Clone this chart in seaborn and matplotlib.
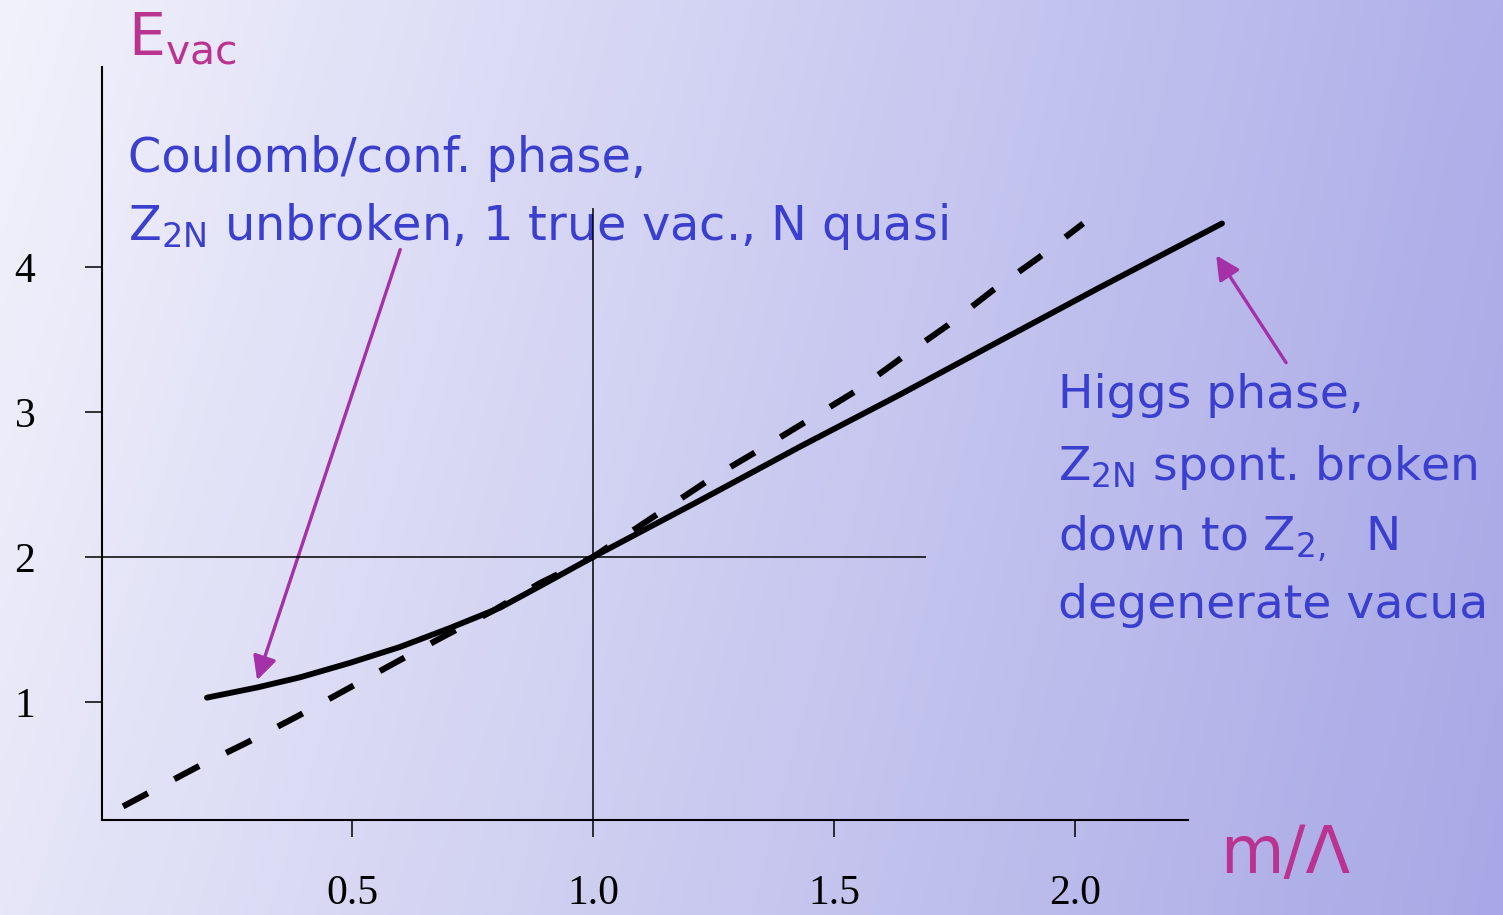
import numpy as np
import pandas as pd
import matplotlib
matplotlib.use("Agg")
import matplotlib.pyplot as plt
import seaborn as sns

# values (x = m/Lambda, y = E_vac)
solid_x = [0.199, 0.303, 0.392, 0.496, 0.600, 0.703, 0.807, 0.896, 1.0,
           1.222, 1.429, 1.637, 1.844, 2.052, 2.305]
solid_y = [1.03, 1.10, 1.17, 1.27, 1.38, 1.51, 1.65, 1.81, 2.0,
           2.39, 2.76, 3.12, 3.49, 3.86, 4.30]

dash_x = [0.025, 0.178, 0.282, 0.386, 0.485, 0.589, 0.689, 0.793, 0.890, 1.0,
          1.154, 1.249, 1.351, 1.450, 1.548, 1.643, 1.737, 1.830, 1.923, 2.017]
dash_y = [0.28, 0.55, 0.72, 0.90, 1.08, 1.27, 1.45, 1.63, 1.82, 2.0,
          2.34, 2.55, 2.75, 2.95, 3.15, 3.38, 3.60, 3.84, 4.06, 4.30]

x_ticks = [0.5, 1.0, 1.5, 2.0]
x_tick_labels = ["0.5", "1.0", "1.5", "2.0"]
y_ticks = [1, 2, 3, 4]
y_tick_labels = ["1", "2", "3", "4"]

# reference cross at the transition point
cross_x, cross_y = 1.0, 2.0
vline_top = 4.41
hline_end = 1.69

W, H = 1503, 915
BLUE = "#3b3fcd"
MAGENTA = "#bb3391"
ARROW = "#a431a8"

sns.set_style("white")
plt.rcParams["font.family"] = ["DejaVu Sans"]
plt.rcParams["mathtext.default"] = "regular"


def fpos(px, py):
    # pixel position in the picture -> figure fraction
    return px / W, 1 - py / H


fig = plt.figure(figsize=(W / 100, H / 100), dpi=100)

# gradient background (light lavender top-left -> periwinkle right)
bg = fig.add_axes([0, 0, 1, 1], zorder=-1)
tl = np.array([242, 242, 252]) / 255
tr = np.array([176, 176, 234]) / 255
bl = np.array([230, 230, 248]) / 255
br = np.array([168, 168, 230]) / 255
u = np.linspace(0, 1, 200)[None, :, None]
v = np.linspace(0, 1, 120)[:, None, None]
grad = (1 - v) * ((1 - u) * tl + u * tr) + v * ((1 - u) * bl + u * br)
bg.imshow(grad, aspect="auto", extent=[0, 1, 0, 1], interpolation="bilinear")
bg.axis("off")

# axes box: left spine at x=102px, bottom spine at y=820px, top at y=67px
ax = fig.add_axes([102 / W, 95 / H, 1 - 102 / W, 753 / H])
ax.set_facecolor("none")
x0, x1 = -0.0187, 2.888
y0, y1 = 0.1862, 5.379
ax.set_xlim(x0, x1)
ax.set_ylim(y0, y1)

solid = pd.DataFrame({"m": solid_x, "E": solid_y})
dashed = pd.DataFrame({"m": dash_x, "E": dash_y})
sns.lineplot(data=solid, x="m", y="E", ax=ax, color="black", lw=4.2,
             estimator=None, sort=False, zorder=5)
sns.lineplot(data=dashed, x="m", y="E", ax=ax, color="black", lw=4.4,
             ls=(0, (4.6, 4.9)), estimator=None, sort=False, zorder=5)

ax.vlines(cross_x, y0, vline_top, color="black", lw=1.1, zorder=4)
ax.hlines(cross_y, x0, hline_end, color="black", lw=1.1, zorder=4)

for side in ["top", "right"]:
    ax.spines[side].set_visible(False)
for side in ["left", "bottom"]:
    ax.spines[side].set_color("black")
    ax.spines[side].set_linewidth(1.5)
ax.spines["bottom"].set_bounds(x0, 2.234)

ax.set_xticks(x_ticks, x_tick_labels, family="Liberation Serif")
ax.set_yticks(y_ticks, y_tick_labels, family="Liberation Serif")
ax.tick_params(axis="x", direction="out", length=12, width=1.1, pad=27,
               labelsize=30, colors="black", bottom=True)
ax.tick_params(axis="y", direction="out", length=12, width=1.1, pad=36,
               labelsize=30, colors="black", left=True)
ax.set_xlabel("")
ax.set_ylabel("")

# axis titles
ax.text(*fpos(128, 55), r"E$_{\mathregular{vac}}$", transform=fig.transFigure,
        color=MAGENTA, fontsize=42, va="baseline", ha="left")
ax.text(*fpos(1220, 873), "m/\u039b", transform=fig.transFigure,
        color=MAGENTA, fontsize=47, va="baseline", ha="left")

# phase annotations
left_lines = [
    (172, "Coulomb/conf. phase,"),
    (240, r"Z$_{\mathregular{2N}}$ unbroken, 1 true vac., N quasi"),
]
for py, s in left_lines:
    ax.text(*fpos(128, py), s, transform=fig.transFigure, color=BLUE,
            fontsize=34.5, va="baseline", ha="left", zorder=3)

right_lines = [
    (408, "Higgs phase,"),
    (480, r"Z$_{\mathregular{2N}}$ spont. broken"),
    (550, r"down to Z$_{\mathregular{2,}}$  N"),
    (618, "degenerate vacua"),
]
for py, s in right_lines:
    ax.text(*fpos(1058, py), s, transform=fig.transFigure, color=BLUE,
            fontsize=34, va="baseline", ha="left", zorder=3)

arrow = dict(arrowstyle="-|>", color=ARROW, lw=2.4, mutation_scale=36,
             shrinkA=0, shrinkB=0)
ax.annotate("", xy=(0.303, 1.15), xytext=(0.600, 4.12), arrowprops=arrow,
            annotation_clip=False)
ax.annotate("", xy=(2.293, 4.08), xytext=(2.438, 3.34), arrowprops=arrow,
            annotation_clip=False)

fig.savefig("out.png", dpi=100)
